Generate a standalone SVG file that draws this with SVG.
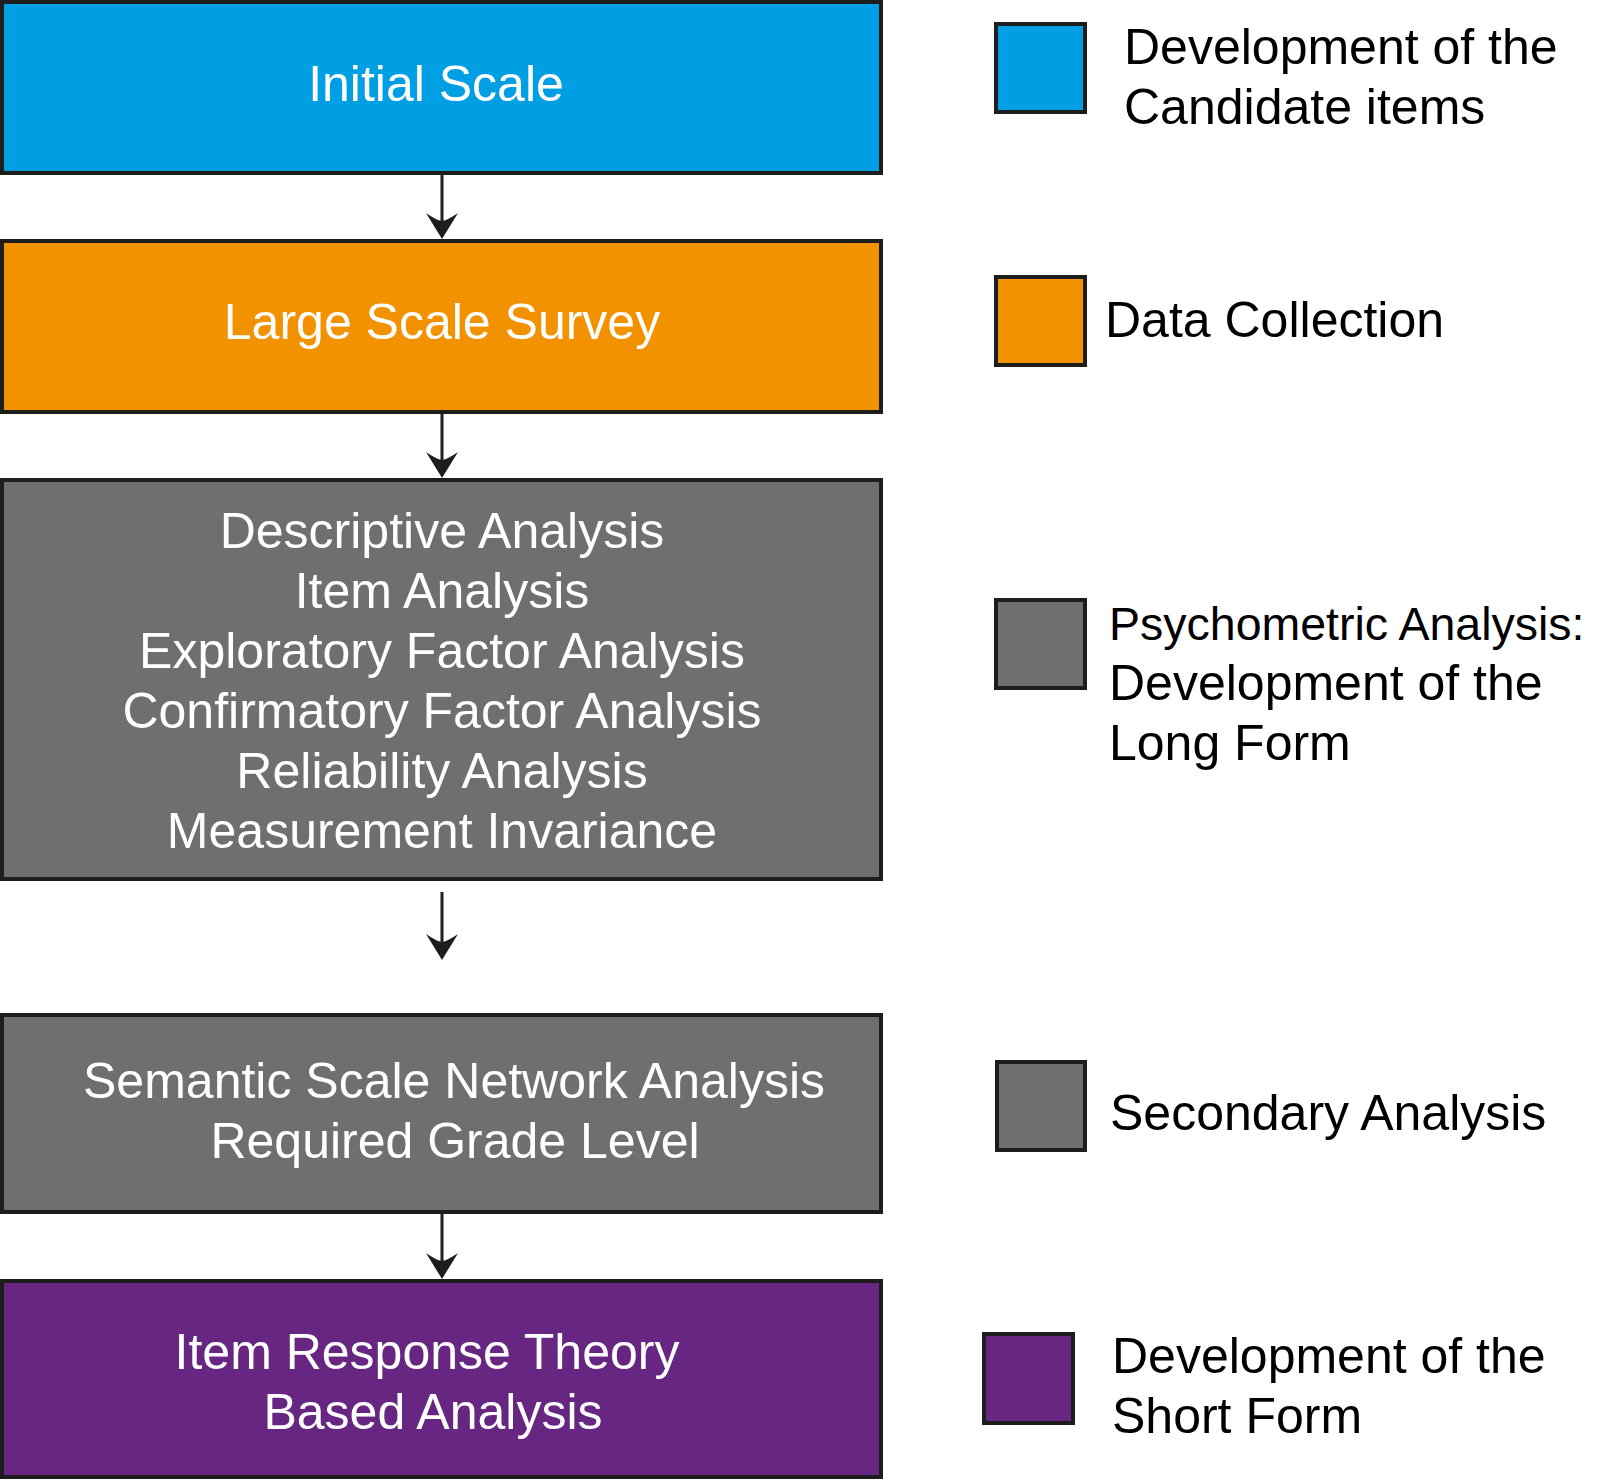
<svg xmlns="http://www.w3.org/2000/svg" width="1597" height="1480" viewBox="0 0 1597 1480">
  <style>
    .box { stroke: #1d1d1b; stroke-width: 4; }
    .blue { fill: #009fe3; }
    .orange { fill: #f39200; }
    .gray { fill: #6f6f6f; }
    .purple { fill: #662681; }
    .t { font-family: "Liberation Sans", Arial, sans-serif; font-size: 50px; }
    .w { fill: #ffffff; text-anchor: middle; }
    .k { fill: #000000; }
    .conn { stroke: #1d1d1b; stroke-width: 3; fill: none; }
  </style>
  <defs>
    <marker id="ah" markerUnits="userSpaceOnUse" viewBox="0 0 26 32" markerWidth="26" markerHeight="32" refX="16" refY="16" orient="auto">
      <path d="M26,16 L0,0 Q7,10 8,16 Q7,22 0,32 Z" fill="#1d1d1b"/>
    </marker>
  </defs>
  <rect width="1597" height="1480" fill="#ffffff"/>

  <g id="connectors">
    <line class="conn" x1="442" y1="175" x2="442" y2="229" marker-end="url(#ah)"/>
    <line class="conn" x1="442" y1="414" x2="442" y2="468" marker-end="url(#ah)"/>
    <line class="conn" x1="442" y1="892" x2="442" y2="950" marker-end="url(#ah)"/>
    <line class="conn" x1="442" y1="1214" x2="442" y2="1269" marker-end="url(#ah)"/>
  </g>

  <g id="node-initial-scale">
    <rect class="box blue" x="2" y="2" width="879" height="171"/>
    <text class="t w" x="436" y="101">Initial Scale</text>
  </g>

  <g id="node-large-scale-survey">
    <rect class="box orange" x="2" y="241" width="879" height="171"/>
    <text class="t w" x="442" y="339">Large Scale Survey</text>
  </g>

  <g id="node-psychometric">
    <rect class="box gray" x="2" y="480" width="879" height="399"/>
    <text class="t w" x="442" y="548">Descriptive Analysis</text>
    <text class="t w" x="442" y="608">Item Analysis</text>
    <text class="t w" x="442" y="668">Exploratory Factor Analysis</text>
    <text class="t w" x="442" y="728">Confirmatory Factor Analysis</text>
    <text class="t w" x="442" y="788">Reliability Analysis</text>
    <text class="t w" x="442" y="848">Measurement Invariance</text>
  </g>

  <g id="node-secondary">
    <rect class="box gray" x="2" y="1015" width="879" height="197"/>
    <text class="t w" x="454" y="1098">Semantic Scale Network Analysis</text>
    <text class="t w" x="455" y="1158">Required Grade Level</text>
  </g>

  <g id="node-irt">
    <rect class="box purple" x="2" y="1281" width="879" height="196"/>
    <text class="t w" x="427" y="1369">Item Response Theory</text>
    <text class="t w" x="433" y="1429">Based Analysis</text>
  </g>

  <g id="legend-candidate">
    <rect class="box blue" x="996" y="24" width="89" height="88"/>
    <text class="t k" x="1124" y="64">Development of the</text>
    <text class="t k" x="1124" y="124">Candidate items</text>
  </g>

  <g id="legend-data">
    <rect class="box orange" x="996" y="277" width="89" height="88"/>
    <text class="t k" x="1105" y="337">Data Collection</text>
  </g>

  <g id="legend-psychometric">
    <rect class="box gray" x="996" y="600" width="89" height="88"/>
    <text class="t k" x="1109" y="640" style="font-size:46.5px">Psychometric Analysis:</text>
    <text class="t k" x="1109" y="700">Development of the</text>
    <text class="t k" x="1109" y="760">Long Form</text>
  </g>

  <g id="legend-secondary">
    <rect class="box gray" x="997" y="1062" width="88" height="88"/>
    <text class="t k" x="1110" y="1130">Secondary Analysis</text>
  </g>

  <g id="legend-short">
    <rect class="box purple" x="984" y="1334" width="89" height="89"/>
    <text class="t k" x="1112" y="1373">Development of the</text>
    <text class="t k" x="1112" y="1433">Short Form</text>
  </g>
</svg>
